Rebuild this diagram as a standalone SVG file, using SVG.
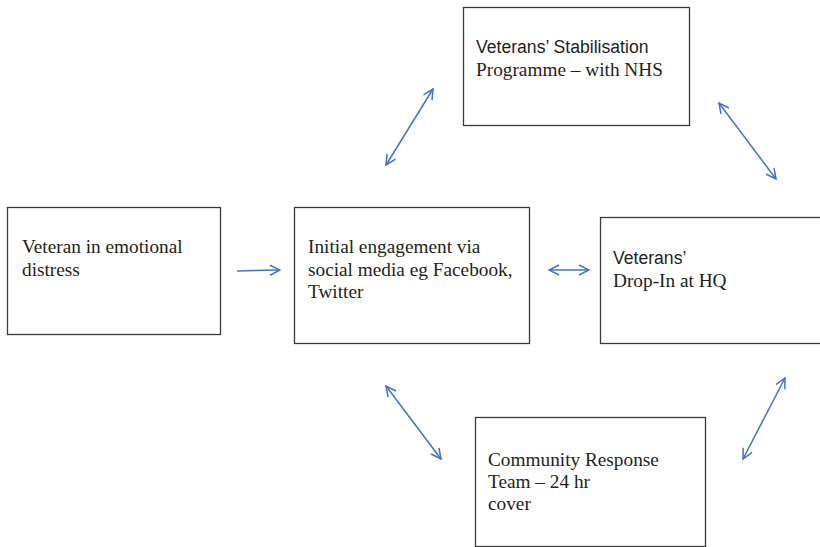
<svg xmlns="http://www.w3.org/2000/svg" width="820" height="547" viewBox="0 0 820 547">
<style>
.box{fill:#fff;stroke:#3a3a3a;stroke-width:1.3}
.t{font-family:"Liberation Serif",serif;font-size:19.3px;fill:#231f20}
.s{font-family:"Liberation Sans",sans-serif;font-size:17.6px;fill:#231f20}
.c{stroke:#4472c4;stroke-width:1.5;fill:none}
</style>
<defs>
<marker id="ah" viewBox="0 0 12 12" refX="11" refY="6" markerWidth="12" markerHeight="12" markerUnits="userSpaceOnUse" orient="auto-start-reverse">
<path d="M1,1 L11,6 L1,11" fill="none" stroke="#4472c4" stroke-width="1.5"/>
</marker>
</defs>
<rect width="820" height="547" fill="#fff"/>
<g id="veteran">
<rect class="box" x="7.5" y="207.5" width="213" height="127"/>
<text class="t" x="22" y="253">Veteran in emotional</text>
<text class="t" x="22" y="276">distress</text>
</g>
<g id="initial">
<rect class="box" x="294.5" y="207.5" width="235" height="136"/>
<text class="t" x="308" y="253">Initial engagement via</text>
<text class="t" x="308" y="276">social media eg Facebook,</text>
<text class="t" x="308" y="298">Twitter</text>
</g>
<g id="stabilisation">
<rect class="box" x="463.5" y="7.5" width="226" height="118"/>
<text class="s" x="476" y="53">Veterans’ Stabilisation</text>
<text class="t" x="476" y="76">Programme – with NHS</text>
</g>
<g id="dropin">
<rect class="box" x="600.5" y="217.5" width="225" height="126"/>
<text class="s" x="613" y="264">Veterans’</text>
<text class="t" x="613" y="287">Drop-In at HQ</text>
</g>
<g id="community">
<rect class="box" x="475.5" y="417.5" width="230" height="129"/>
<text class="t" x="488" y="466">Community Response</text>
<text class="t" x="488" y="488">Team – 24 hr</text>
<text class="t" x="488" y="510">cover</text>
</g>
<g id="connectors">
<line class="c" x1="237" y1="271" x2="280" y2="270" marker-end="url(#ah)"/>
<line class="c" x1="549" y1="270" x2="589" y2="270" marker-start="url(#ah)" marker-end="url(#ah)"/>
<line class="c" x1="386" y1="165" x2="433" y2="89" marker-start="url(#ah)" marker-end="url(#ah)"/>
<line class="c" x1="719" y1="103" x2="776" y2="179" marker-start="url(#ah)" marker-end="url(#ah)"/>
<line class="c" x1="386" y1="386" x2="441" y2="459" marker-start="url(#ah)" marker-end="url(#ah)"/>
<line class="c" x1="743" y1="459" x2="785" y2="378" marker-start="url(#ah)" marker-end="url(#ah)"/>
</g>
</svg>
